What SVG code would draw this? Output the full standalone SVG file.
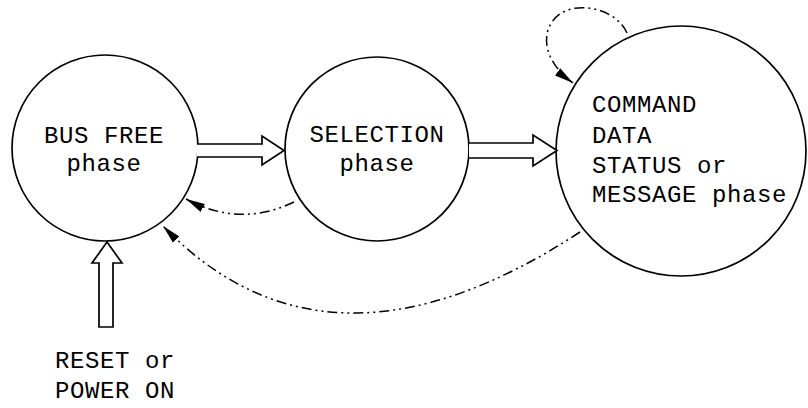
<svg xmlns="http://www.w3.org/2000/svg" width="808" height="408" viewBox="0 0 808 408">
<style>
.node{fill:#fff;stroke:#000;stroke-width:1.7}
.lbl{font-family:"Liberation Mono","Courier New",monospace;font-size:24px;letter-spacing:0.6px;fill:#000}
.blk{fill:#fff;stroke:#000;stroke-width:1.7;stroke-linejoin:miter}
.dd{fill:none;stroke:#000;stroke-width:1.5;stroke-dasharray:10 4 2 4 2 4}
</style>
<defs>
<marker id="ah" markerUnits="userSpaceOnUse" markerWidth="20" markerHeight="10" refX="19" refY="5" orient="auto">
<path d="M0,0.5 L19,5 L0,9.5 z" fill="#000"/>
</marker>
</defs>
<rect width="808" height="408" fill="#fff"/>
<g id="bus-free">
<circle class="node" cx="105" cy="148" r="93"/>
<text class="lbl" x="104" y="143" text-anchor="middle">BUS FREE</text>
<text class="lbl" x="104" y="171" text-anchor="middle">phase</text>
</g>
<g id="selection">
<circle class="node" cx="377" cy="149" r="92"/>
<text class="lbl" x="377" y="142" text-anchor="middle">SELECTION</text>
<text class="lbl" x="377" y="171" text-anchor="middle">phase</text>
</g>
<g id="info-phases">
<circle class="node" cx="681" cy="151" r="125"/>
<text class="lbl" x="592" y="112">COMMAND</text>
<text class="lbl" x="592" y="143">DATA</text>
<text class="lbl" x="592" y="173">STATUS or</text>
<text class="lbl" x="592" y="202">MESSAGE phase</text>
</g>
<g id="reset">
<text class="lbl" x="55" y="368">RESET or</text>
<text class="lbl" x="55" y="398">POWER ON</text>
</g>
<g id="connectors">
<path class="blk" d="M197,144 L262,144 L262,136 L284,150.5 L262,165 L262,157 L197,157"/>
<path class="blk" d="M469,143 L533,143 L533,135 L557,150.5 L533,166 L533,158 L469,158"/>
<path class="blk" d="M99,327 L99,263 L92,263 L107,242 L122,263 L113,263 L113,327 Z"/>
<path class="dd" d="M294,202 Q240,228 186,199" marker-end="url(#ah)"/>
<path class="dd" d="M580,232 Q328,397 163,226" marker-end="url(#ah)"/>
<path class="dd" d="M627,33 C615,5 560,-5 548,30 C542,50 555,70 573,83" marker-end="url(#ah)"/>
</g>
</svg>
